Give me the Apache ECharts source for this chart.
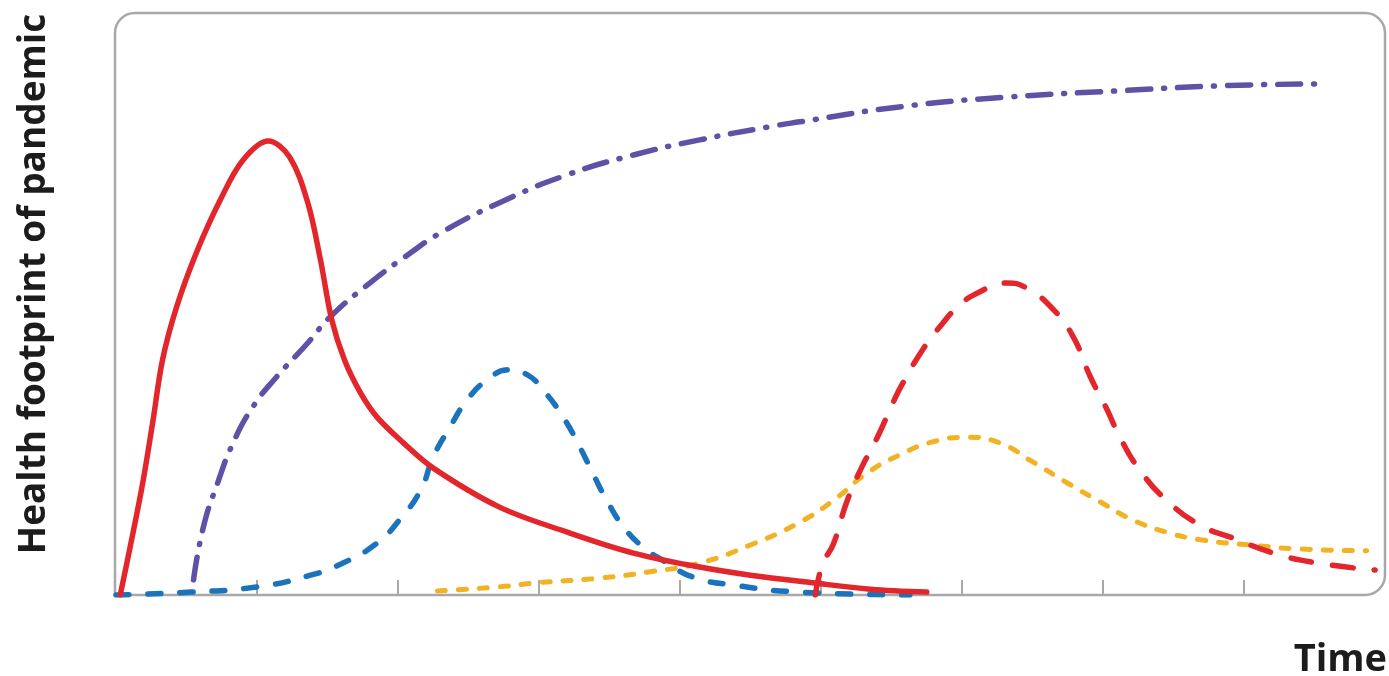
<!DOCTYPE html>
<html>
<head>
<meta charset="utf-8">
<script src="https://cdn.jsdelivr.net/npm/echarts@6/dist/echarts.min.js"></script>
<style>
html,body{margin:0;padding:0;background:#fff;}
#chart{width:1389px;height:676px;}
</style>
</head>
<body>
<div id="chart"></div>
<script>
// ---- data (x = time units, y = relative health footprint 0..100) ----
const xTicks = [1, 2, 3, 4, 5, 6, 7, 8];
const yTitle = 'Health footprint of pandemic';
const xTitle = 'Time';

// immediate health impact (solid red)
const firstWave = [
  [0.03,0],[0.18,18.0],[0.26,29.6],[0.33,40.4],[0.43,49.5],[0.57,58.8],[0.74,67.9],
  [0.90,74.7],[1.08,78.0],[1.23,75.3],[1.36,67.4],[1.45,57.6],[1.53,47.3],[1.62,40.4],
  [1.73,34.9],[1.85,30.6],[2.04,26.1],[2.25,21.8],[2.72,15.1],[3.20,10.8],[3.67,7.2],
  [4.14,4.8],[4.50,3.4],[4.94,2.1],[5.35,1.0],[5.75,0.5]
];
// dash-dot purple rising curve
const longTerm = [
  [0.55,2.6],[0.62,11.7],[0.72,19.2],[0.83,26.1],[0.97,32.3],[1.14,37.5],[1.36,43.3],
  [1.52,47.8],[1.80,53.6],[2.09,58.8],[2.30,62.2],[2.72,67.4],[3.20,72.2],[3.67,75.6],
  [4.14,78.2],[4.62,80.4],[4.85,81.3],[5.60,84.0],[6.35,85.6],[7.09,86.6],[7.84,87.5],[8.50,87.8]
];
// dashed blue wave
const secondWave = [
  [0,0],[0.53,0.5],[1.00,1.4],[1.38,3.4],[1.61,5.5],[1.85,8.9],[2.01,12.9],[2.16,18.0],
  [2.25,23.7],[2.37,28.9],[2.49,33.5],[2.63,36.9],[2.79,38.7],[2.92,37.8],[3.03,35.2],
  [3.17,30.6],[3.29,25.4],[3.38,21.0],[3.48,16.3],[3.60,11.7],[3.74,8.2],[3.91,5.5],
  [4.09,3.1],[4.38,1.7],[4.85,0.5],[5.63,0]
];
// short-dashed yellow wave
const thirdWave = [
  [2.28,0.7],[2.72,1.4],[2.99,2.1],[3.43,2.9],[3.79,4.0],[4.14,5.5],[4.50,8.6],[4.85,12.5],
  [5.09,16.3],[5.33,21.0],[5.56,24.1],[5.79,26.3],[6.04,27.1],[6.27,26.1],[6.50,22.9],
  [6.75,19.2],[6.98,16.0],[7.21,12.9],[7.45,10.8],[7.69,9.5],[8.04,8.6],[8.40,7.9],[8.87,7.6]
];
// dashed red wave
const fourthWave = [
  [4.96,0],[5.01,5.2],[5.09,8.9],[5.18,15.8],[5.28,21.5],[5.40,27.1],[5.51,33.0],[5.58,36.4],
  [5.72,42.1],[5.84,46.0],[5.97,49.5],[6.11,51.9],[6.32,53.6],[6.46,52.7],[6.65,49.0],
  [6.79,44.3],[6.91,37.5],[7.03,31.8],[7.12,27.1],[7.26,21.5],[7.45,16.3],[7.69,12.0],
  [7.92,9.8],[8.21,7.2],[8.52,5.5],[8.93,4.3]
];

// ---- layout ----
const W = 1389, H = 676;
const GRID = {left: 116, right: 4, top: 13, bottom: 81};
const BOX = {x: GRID.left - 1, y: GRID.top, w: W - GRID.left - GRID.right + 1, h: H - GRID.top - GRID.bottom};
const FONT = '"Open Sans", "DejaVu Sans", sans-serif';

function lineSeries(name, data, color, dash, width, z, smooth) {
  return {
    name, type: 'line', data, smooth: smooth, showSymbol: false, symbol: 'none', z: z || 2,
    lineStyle: {color, width, type: dash, cap: 'round', join: 'round'},
    emphasis: {disabled: true}, silent: true, animation: false
  };
}

const chart = echarts.init(document.getElementById('chart'), null, {renderer: 'canvas'});
chart.setOption({
  animation: false,
  backgroundColor: '#ffffff',
  grid: {left: GRID.left, right: GRID.right, top: GRID.top, bottom: GRID.bottom},
  xAxis: {
    type: 'value', min: 0, max: 9, interval: 1,
    axisLine: {show: false},
    axisTick: {show: true, inside: true, length: 15, customValues: xTicks,
               lineStyle: {color: '#a8a8a8', width: 2}},
    axisLabel: {show: false},
    splitLine: {show: false}
  },
  yAxis: {
    type: 'value', min: 0, max: 100,
    axisLine: {show: false}, axisTick: {show: false},
    axisLabel: {show: false}, splitLine: {show: false}
  },
  graphic: [
    {
      type: 'rect', z: 1, silent: true,
      shape: {x: BOX.x, y: BOX.y, width: BOX.w, height: BOX.h, r: [20, 20, 20, 0]},
      style: {fill: 'none', stroke: '#a8a8a8', lineWidth: 2.5}
    },
    {
      type: 'text', z: 10, silent: true,
      x: 34, y: 284, rotation: Math.PI / 2,
      style: {text: yTitle, font: 'bold 37px ' + FONT, fill: '#1c1c1c',
              align: 'center', verticalAlign: 'middle'}
    },
    {
      type: 'text', z: 10, silent: true,
      x: 1387, y: 660,
      style: {text: xTitle, font: 'bold 38px ' + FONT, fill: '#1c1c1c',
              align: 'right', verticalAlign: 'middle'}
    }
  ],
  series: [
    lineSeries('longTerm', longTerm, '#5f52a6', [23, 13, 1, 13], 5.5, 2, 0.5),
    lineSeries('thirdWave', thirdWave, '#f1b223', [8, 13], 5, 3, 0.5),
    lineSeries('secondWave', secondWave, '#1b74bb', [13, 19], 5.5, 4, 0.5),
    lineSeries('fourthWave', fourthWave, '#e2262b', [21, 21], 5.5, 5, 0.5),
    lineSeries('firstWave', firstWave, '#e2262b', 'solid', 5.5, 6, 0.35)
  ]
});
</script>
</body>
</html>
